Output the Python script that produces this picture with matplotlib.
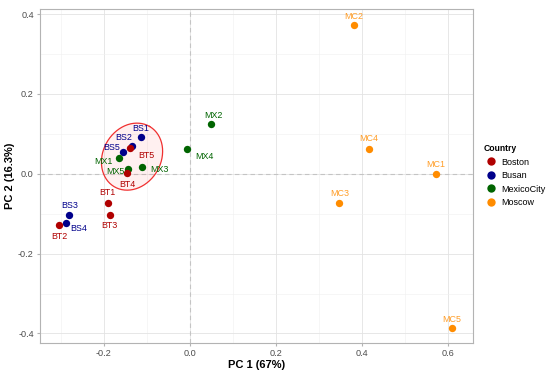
import numpy as np
import matplotlib
matplotlib.use("Agg")
import matplotlib.pyplot as plt
from matplotlib.lines import Line2D

plt.rcParams["font.family"] = ["Liberation Sans", "DejaVu Sans"]
plt.rcParams["axes.unicode_minus"] = False

# PCA scores
countries = ["Boston", "Busan", "MexicoCity", "Moscow"]
colors = {"Boston": "#B00000", "Busan": "#00008B", "MexicoCity": "#006400", "Moscow": "#FF8C00"}

boston_names = ["BT1", "BT2", "BT3", "BT4", "BT5"]
boston_pc1 = [-0.191, -0.303, -0.186, -0.145, -0.138]
boston_pc2 = [-0.073, -0.128, -0.102, 0.001, 0.064]

busan_names = ["BS1", "BS2", "BS3", "BS4", "BS5"]
busan_pc1 = [-0.114, -0.134, -0.280, -0.288, -0.156]
busan_pc2 = [0.091, 0.070, -0.102, -0.124, 0.054]

mexico_names = ["MX1", "MX2", "MX3", "MX4", "MX5"]
mexico_pc1 = [-0.165, 0.050, -0.110, -0.006, -0.143]
mexico_pc2 = [0.039, 0.124, 0.018, 0.062, 0.012]

moscow_names = ["MC1", "MC2", "MC3", "MC4", "MC5"]
moscow_pc1 = [0.573, 0.382, 0.348, 0.417, 0.610]
moscow_pc2 = [0.000, 0.372, -0.074, 0.063, -0.387]

# label offsets in pixels (dx, dy), like ggrepel placed them
label_offsets = {
    "BT1": (0, 10), "BT2": (0, -12), "BT3": (0, -11), "BT4": (0, -11), "BT5": (16, -7),
    "BS1": (0, 9), "BS2": (-8, 8), "BS3": (0, 9), "BS4": (13, -5), "BS5": (-11, 5),
    "MX1": (-15, -3), "MX2": (2, 9), "MX3": (17, -3), "MX4": (17, -7), "MX5": (-13, -2),
    "MC1": (0, 9), "MC2": (0, 9), "MC3": (0, 10), "MC4": (0, 10), "MC5": (0, 9),
}

groups = {
    "Busan": (busan_names, busan_pc1, busan_pc2),
    "MexicoCity": (mexico_names, mexico_pc1, mexico_pc2),
    "Moscow": (moscow_names, moscow_pc1, moscow_pc2),
    "Boston": (boston_names, boston_pc1, boston_pc2),
}

fig = plt.figure(figsize=(5.5, 3.75), dpi=100)
ax = fig.add_axes([40 / 550, 1 - 343 / 375, 433 / 550, 334 / 375])

ax.set_xlim(-0.348, 0.659)
ax.set_ylim(-0.424, 0.413)

ax.set_xticks([-0.2, 0.0, 0.2, 0.4, 0.6])
ax.set_yticks([-0.4, -0.2, 0.0, 0.2, 0.4])
ax.set_xticklabels(["-0.2", "0.0", "0.2", "0.4", "0.6"])
ax.set_yticklabels(["-0.4", "-0.2", "0.0", "0.2", "0.4"])
ax.set_xticks(np.arange(-0.3, 0.7, 0.2), minor=True)
ax.set_yticks([-0.3, -0.1, 0.1, 0.3], minor=True)
ax.grid(which="major", color="#E3E3E3", linewidth=0.6)
ax.grid(which="minor", color="#F0F0F0", linewidth=0.4)
ax.set_axisbelow(True)
ax.tick_params(which="major", length=2.5, color="#B3B3B3", labelsize=6.6, labelcolor="#4D4D4D", pad=2)
ax.tick_params(which="minor", length=0)
for s in ax.spines.values():
    s.set_color("#B3B3B3")
    s.set_linewidth(0.8)

ax.axhline(0, color="#C4C4C4", linestyle=(0, (4, 3)), linewidth=0.8, zorder=1)
ax.axvline(0, color="#C4C4C4", linestyle=(0, (4, 3)), linewidth=0.8, zorder=1)

# confidence ellipse around the central cluster
t = np.linspace(0, 2 * np.pi, 200)
th = np.deg2rad(60)
a, b = 35, 29
ecx, ecy = -0.134, 0.043
ex = ecx + (a * np.cos(t) * np.cos(th) - b * np.sin(t) * np.sin(th)) / 430
ey = ecy + (a * np.cos(t) * np.sin(th) + b * np.sin(t) * np.cos(th)) / 400
ax.fill(ex, ey, color="#FF0000", alpha=0.06, zorder=2, linewidth=0)
ax.plot(ex, ey, color="#F03030", linewidth=0.9, zorder=2)

for country, (names, xs, ys) in groups.items():
    c = colors[country]
    ax.scatter(xs, ys, s=28, color=c, zorder=3, linewidths=0)
    for n, x, y in zip(names, xs, ys):
        dx, dy = label_offsets[n]
        ax.annotate(n, (x, y), xytext=(dx, dy), textcoords="offset pixels",
                    ha="center", va="center", fontsize=6.4, color=c,
                    alpha=0.85 if country == "Moscow" else 1.0, zorder=4)

ax.set_xlabel("PC 1 (67%)", fontsize=8, fontweight="bold", labelpad=1)
ax.set_ylabel("PC 2 (16.3%)", fontsize=8, fontweight="bold", labelpad=2)

handles = [Line2D([0], [0], marker="o", linestyle="", markersize=6,
                  markerfacecolor=colors[c], markeredgewidth=0) for c in countries]
leg = fig.legend(handles, countries, title="Country", loc="upper left",
                 bbox_to_anchor=(484 / 550, 1 - 144 / 375), frameon=False,
                 fontsize=6.5, title_fontsize=6.2, handletextpad=0.4,
                 labelspacing=0.5, handlelength=1.5, borderaxespad=0, borderpad=0)
leg.get_title().set_fontweight("bold")
leg._legend_box.align = "left"

fig.savefig("out.png", dpi=100)
